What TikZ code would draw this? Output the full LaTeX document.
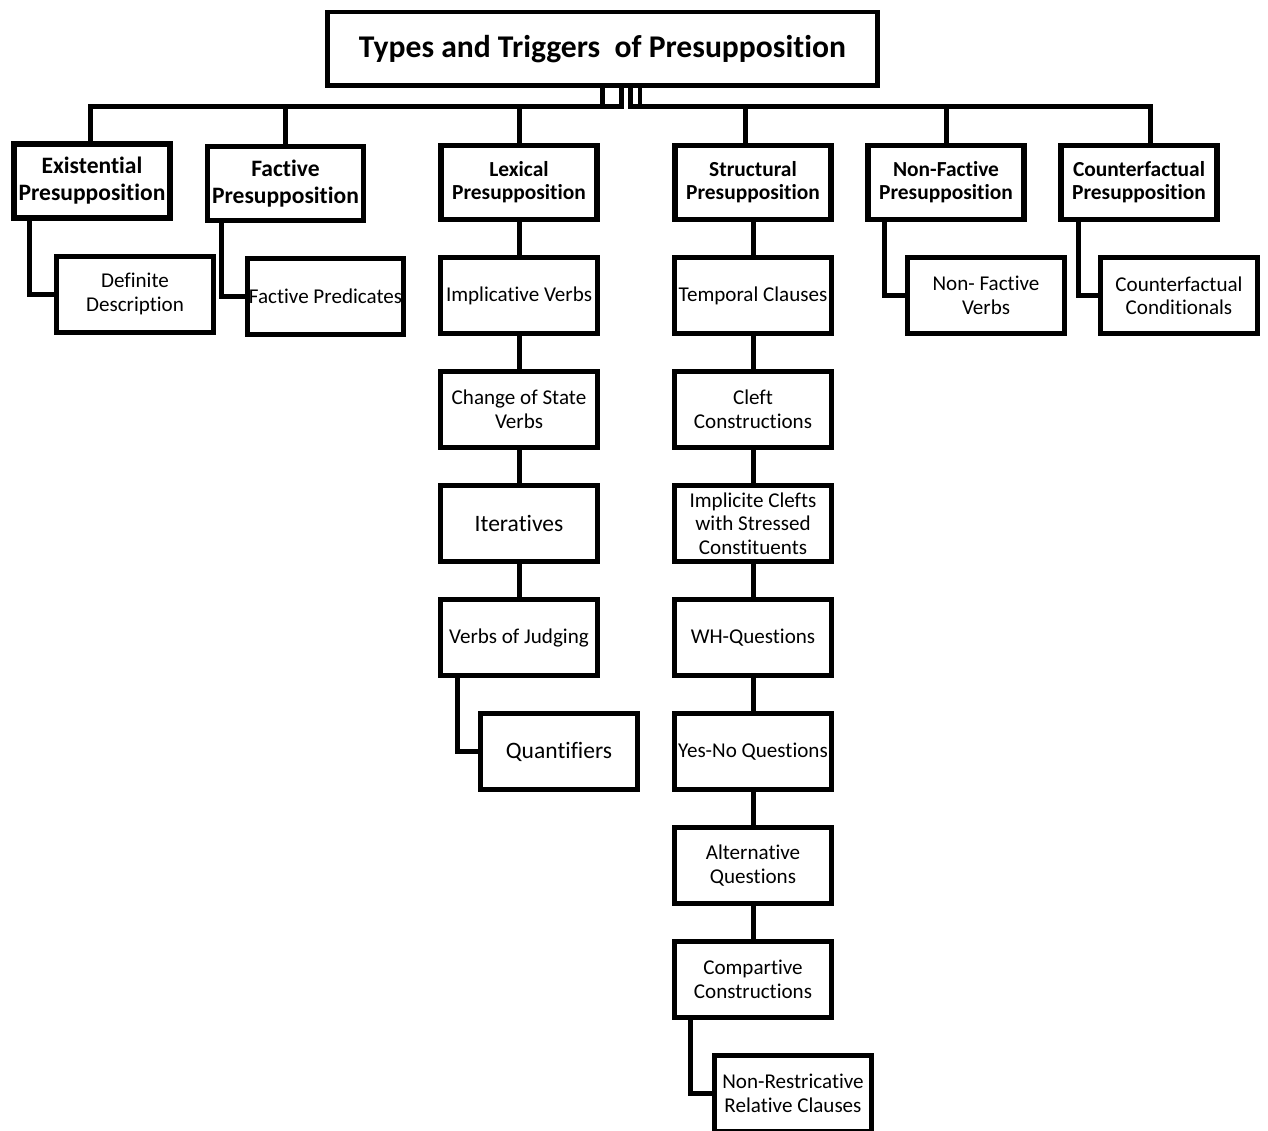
\documentclass[tikz,border=0pt]{standalone}
\usepackage{fontspec}
\setmainfont[Ligatures=NoCommon]{Carlito}
\usepackage{tikz}
\usetikzlibrary{positioning}

\begin{document}
\begin{tikzpicture}[
    x=0.02cm, y=-0.02cm,
    node distance=0.66cm,
    headbox/.style={draw=black, line width=0.09cm, minimum width=11.0cm, minimum height=1.47cm, font=\fontsize{18}{21}\selectfont\bfseries},
    topbox/.style={draw=black, line width=0.11cm, minimum width=3.12cm, minimum height=1.48cm, align=center, inner sep=1pt, font=\fontsize{12.2}{13.2}\selectfont\bfseries},
    bigtop/.style={topbox, font=\fontsize{13.4}{15.3}\selectfont\bfseries},
    subbox/.style={draw=black, line width=0.1cm, minimum width=3.14cm, minimum height=1.52cm, align=center, inner sep=1pt, font=\fontsize{12}{13.6}\selectfont},
    bigsub/.style={subbox, font=\fontsize{13.4}{15}\selectfont},
    link/.style={line width=0.1cm}
]
\useasboundingbox (0,0) rectangle (1268,1131);

% Title
\node[headbox] (title) at (602.5,49) {Types and Triggers\ \ of Presupposition};

% Top row - types
\node[bigtop] (exi) at (92,181)    {Existential\\Presupposition};
\node[bigtop] (fac) at (285.5,183.5) {Factive\\Presupposition};
\node[topbox] (lex) at (519,182.5) {Lexical\\Presupposition};
\node[topbox] (str) at (753,182.5) {Structural\\Presupposition};
\node[topbox] (nfa) at (946,182.5) {Non-Factive\\Presupposition};
\node[topbox] (cf)  at (1139,182.5) {Counterfactual\\Presupposition};

% Small branches
\node[subbox, below=of exi, xshift=0.86cm] (def) {Definite\\Description};
\node[subbox, below=of fac, xshift=0.8cm] (fpr) {Factive Predicates};
\node[subbox, below=of nfa, xshift=0.8cm] (nfv) {Non- Factive\\Verbs};
\node[subbox, below=of cf, xshift=0.8cm] (cfc) {Counterfactual\\Conditionals};

% Lexical column
\node[subbox, below=of lex] (imp) {Implicative Verbs};
\node[subbox, below=of imp] (cos) {Change of State\\Verbs};
\node[bigsub, below=of cos] (ite) {Iteratives};
\node[subbox, below=of ite] (jud) {Verbs of Judging};
\node[bigsub, below=of jud, xshift=0.8cm] (qua) {Quantifiers};

% Structural column
\node[subbox, below=of str] (tem) {Temporal Clauses};
\node[subbox, below=of tem] (clf) {Cleft\\Constructions};
\node[subbox, below=of clf] (imc) {Implicite Clefts\\with Stressed\\Constituents};
\node[subbox, below=of imc] (whq) {WH-Questions};
\node[subbox, below=of whq] (ynq) {Yes-No Questions};
\node[subbox, below=of ynq] (alt) {Alternative\\Questions};
\node[subbox, below=of alt] (cmp) {Compartive\\Constructions};
\node[subbox, below=of cmp, xshift=0.8cm] (nrr) {Non-Restricative\\Relative Clauses};

% Title to types
\draw[link] ([xshift=-0.01cm]title.south) -- ++(0,19) -| ([xshift=-0.04cm]exi.north);
\draw[link] ([xshift=-0.01cm]title.south) -- ++(0,19) -| (fac.north);
\draw[link] ([xshift=0.37cm]title.south) -- ++(0,19) -| (lex.north);
\draw[link] ([xshift=0.55cm]title.south) -- ++(0,19) -| ([xshift=-0.16cm]str.north);
\draw[link] ([xshift=0.75cm]title.south) -- ++(0,19) -| (nfa.north);
\draw[link] ([xshift=0.75cm]title.south) -- ++(0,19) -| ([xshift=0.22cm]cf.north);

% Elbow connectors
\draw[link] (exi.south west) ++(18,0) |- (def.west);
\draw[link] (fac.south west) ++(17,0) |- (fpr.west);
\draw[link] (nfa.south west) ++(19,0) |- (nfv.west);
\draw[link] (cf.south west) ++(20,0) |- (cfc.west);
\draw[link] (jud.south west) ++(19,0) |- (qua.west);
\draw[link] (cmp.south west) ++(18,0) |- (nrr.west);

% Column connectors
\draw[link] (lex) -- (imp);
\draw[link] (imp) -- (cos);
\draw[link] (cos) -- (ite);
\draw[link] (ite) -- (jud);
\draw[link] (str) -- (tem);
\draw[link] (tem) -- (clf);
\draw[link] (clf) -- (imc);
\draw[link] (imc) -- (whq);
\draw[link] (whq) -- (ynq);
\draw[link] (ynq) -- (alt);
\draw[link] (alt) -- (cmp);

\end{tikzpicture}
\end{document}
